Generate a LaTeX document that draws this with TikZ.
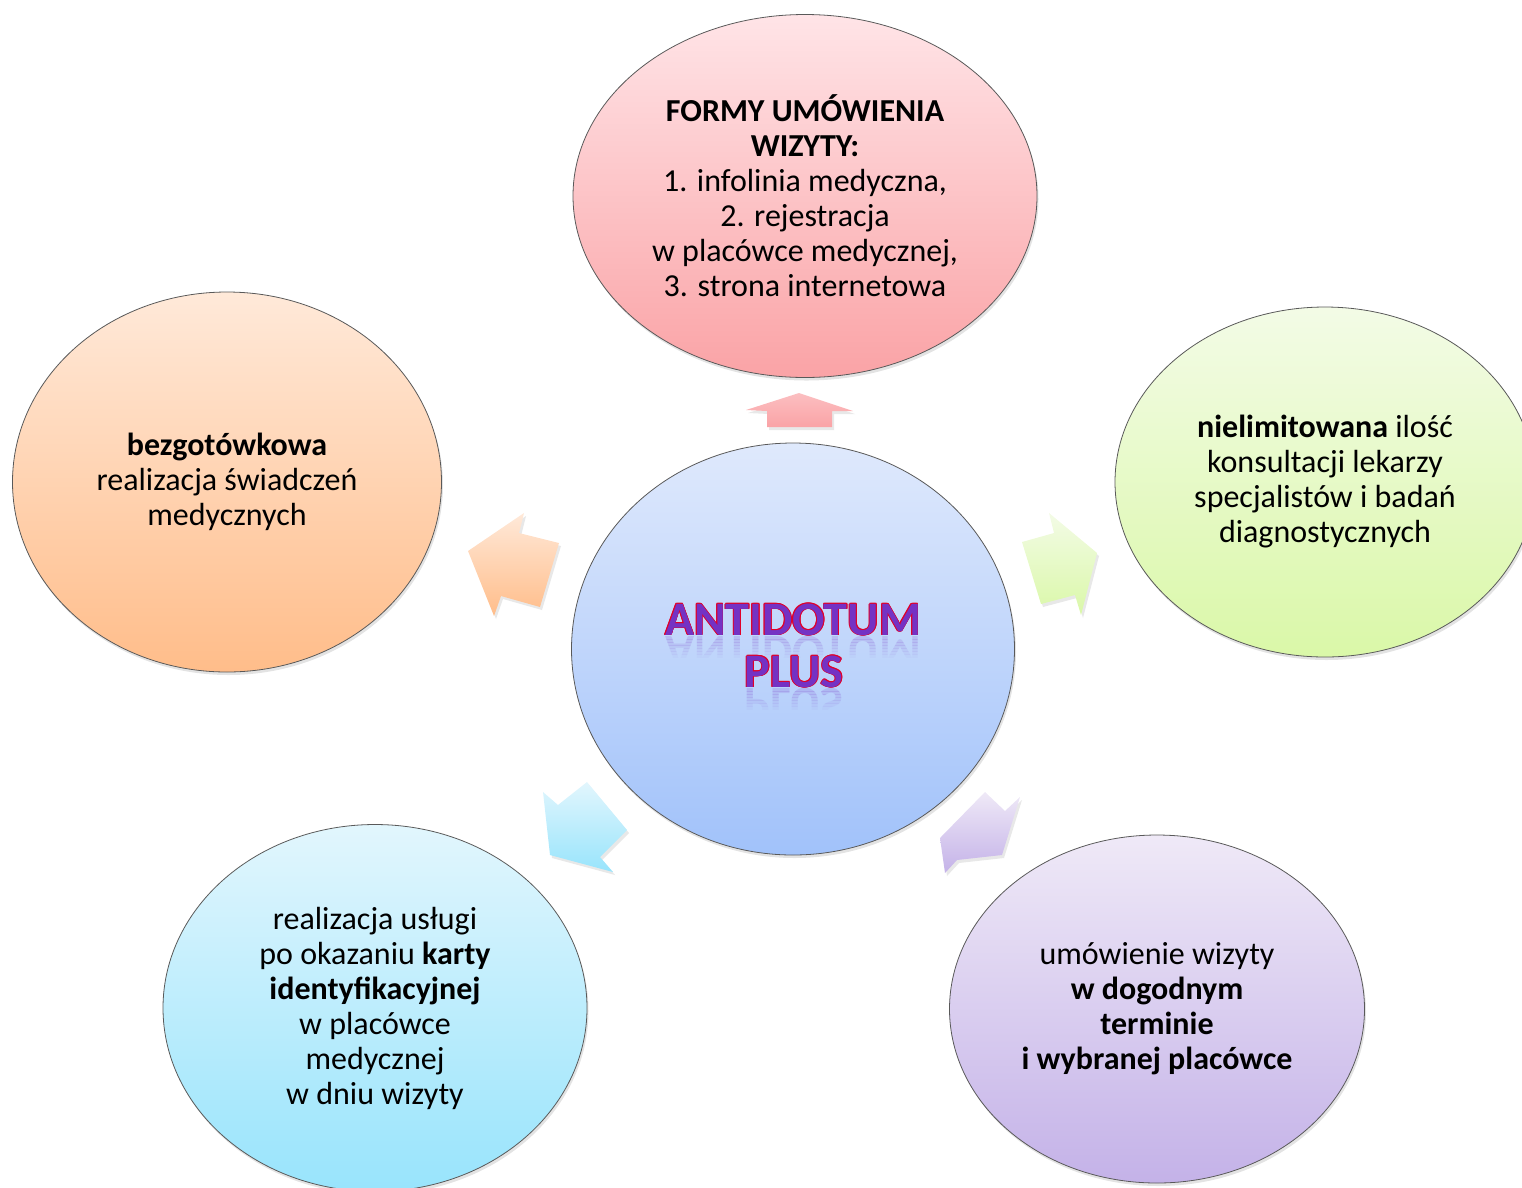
\documentclass[tikz,border=0pt]{standalone}
\usepackage{fontspec}
\setmainfont{Carlito}
\usetikzlibrary{shapes.geometric,shadows}

\definecolor{pinktop}{RGB}{255,228,231}
\definecolor{pinkbot}{RGB}{250,163,166}
\definecolor{orangetop}{RGB}{255,233,217}
\definecolor{orangebot}{RGB}{255,189,138}
\definecolor{greentop}{RGB}{243,251,230}
\definecolor{greenbot}{RGB}{218,248,168}
\definecolor{bluetop}{RGB}{223,233,252}
\definecolor{bluebot}{RGB}{161,194,250}
\definecolor{cyantop}{RGB}{226,246,253}
\definecolor{cyanbot}{RGB}{152,228,252}
\definecolor{lilactop}{RGB}{239,233,247}
\definecolor{lilacbot}{RGB}{196,178,232}
\definecolor{titlepurple}{RGB}{116,50,196}
\definecolor{titlered}{RGB}{226,0,40}

\begin{document}
\begin{tikzpicture}[x=1pt,y=-1pt,
  every node/.style={outer sep=0pt},
  bubble/.style={ellipse, draw=black!65, line width=0.8pt, inner sep=0pt, align=center,
    font=\fontsize{32}{35}\selectfont,
    drop shadow={opacity=0.22, shadow xshift=1.5pt, shadow yshift=-3pt}},
  blockarrow/.style={drop shadow={opacity=0.18, shadow xshift=2pt, shadow yshift=-3pt}},
  headline/.style={font=\fontsize{48}{52}\selectfont\bfseries, inner sep=0pt}]
\useasboundingbox (0,0) rectangle (1522,1187);

\node[bubble, minimum width=464, minimum height=363, top color=pinktop, bottom color=pinkbot] (forms) at (805,196)
  {\textbf{FORMY UMÓWIENIA}\\\textbf{WIZYTY:}\\1. infolinia medyczna,\\2. rejestracja\\w placówce medycznej,\\3. strona internetowa};
\node[bubble, minimum width=429, minimum height=380, top color=orangetop, bottom color=orangebot] (cashless) at (227,482)
  {\textbf{bezgotówkowa}\\realizacja świadczeń\\medycznych};
\node[bubble, minimum width=420, minimum height=350, top color=greentop, bottom color=greenbot] (unlimited) at (1325,482)
  {\textbf{nielimitowana} ilość\\konsultacji lekarzy\\specjalistów i badań\\diagnostycznych};
\node[bubble, minimum width=424, minimum height=367, top color=cyantop, bottom color=cyanbot] (card) at (375,1008)
  {realizacja usługi\\po okazaniu \textbf{karty}\\\textbf{identyfikacyjnej}\\w placówce\\medycznej\\w dniu wizyty};
\node[bubble, minimum width=415, minimum height=348, top color=lilactop, bottom color=lilacbot] (appoint) at (1157,1009)
  {umówienie wizyty\\\textbf{w dogodnym}\\\textbf{terminie}\\\textbf{i wybranej placówce}};
\node[bubble, minimum width=443, minimum height=412, top color=bluetop, bottom color=bluebot] (centre) at (793,649) {};

\path[blockarrow, top color=pinkbot!70, bottom color=pinkbot] (799,393) -- (853,411) -- (832,411) -- (832,427)
  -- (767,427) -- (767,411) -- (746,410) -- cycle;
\path[blockarrow, top color=orangetop, bottom color=orangebot] (468,551) -- (524,513) -- (519,533) -- (559,543)
  -- (540,607) -- (501,596) -- (494,616) -- cycle;
\path[blockarrow, top color=greentop, bottom color=greenbot] (1097,553) -- (1049,513) -- (1054,533) -- (1022,542)
  -- (1041,604) -- (1075,595) -- (1081,615) -- cycle;
\path[blockarrow, top color=cyantop, bottom color=cyanbot] (550,855) -- (543,792) -- (558,805) -- (587,782)
  -- (627,830) -- (600,857) -- (613,872) -- cycle;
\path[blockarrow, top color=lilactop, bottom color=lilacbot] (940,838) -- (985,792) -- (1005,811) -- (1020,797)
  -- (1002,855) -- (957,860) -- (945,873) -- cycle;

\foreach \k in {0,...,6} {
  \pgfmathsetmacro\op{0.16-0.022*\k}
  \begin{scope}
    \clip (600,636+3*\k) rectangle (990,639+3*\k);
    \node[headline, text=titlepurple, opacity=\op, anchor=north] (antidotum-r\k) at (793,636) {\scalebox{1}[-1]{ANTIDOTUM}};
  \end{scope}
  \begin{scope}
    \clip (600,688+3*\k) rectangle (990,691+3*\k);
    \node[headline, text=titlepurple, opacity=\op, anchor=north] (plus-r\k) at (794,688) {\scalebox{1}[-1]{PLUS}};
  \end{scope}
}
\foreach \a in {0,45,...,315} {
  \node[headline, text=titlered, anchor=base, shift={(\a:0.8)}] (antidotum-o\a) at (793,635) {ANTIDOTUM};
  \node[headline, text=titlered, anchor=base, shift={(\a:0.8)}] (plus-o\a) at (794,687) {PLUS};
}
\node[headline, text=titlepurple, anchor=base] (antidotum) at (793,635) {ANTIDOTUM};
\node[headline, text=titlepurple, anchor=base] (plus) at (794,687) {PLUS};
\end{tikzpicture}
\end{document}
